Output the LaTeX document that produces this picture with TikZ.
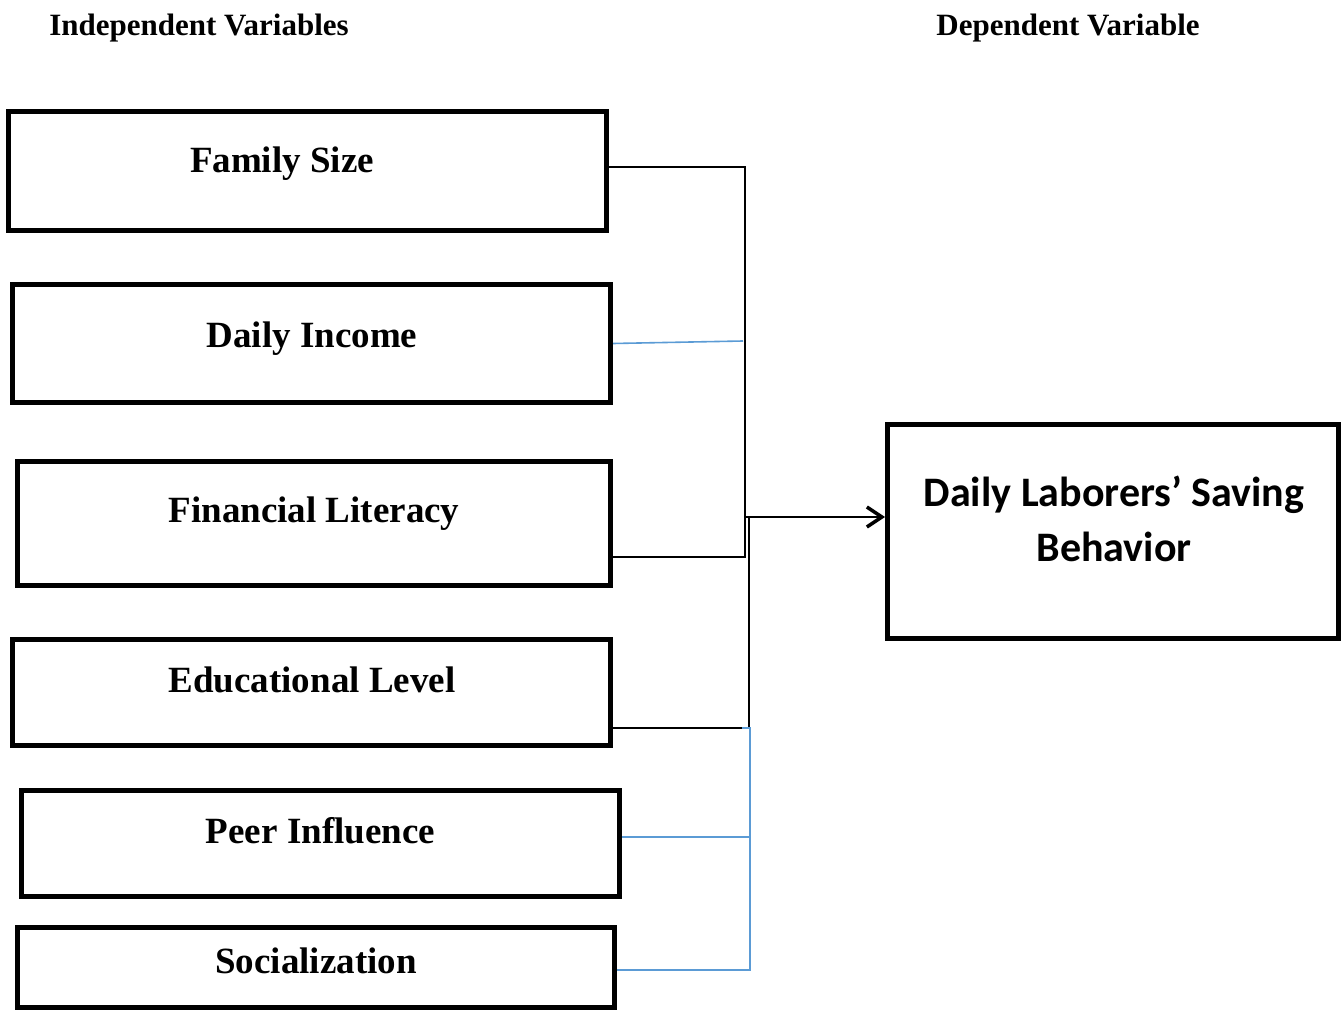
\documentclass[tikz,border=0pt]{standalone}
\usepackage{fontspec}
\setmainfont{Liberation Serif}
\newfontfamily\calibri{Carlito}
\usepackage{tikz}
\usetikzlibrary{arrows.meta, positioning, calc}
\definecolor{linkblue}{RGB}{91,155,213}

\begin{document}
\begin{tikzpicture}[
  x=1pt, y=-1pt,
  varbox/.style={rectangle, draw, line width=5pt, inner sep=0pt},
  lbl/.style={anchor=base, font=\fontsize{37}{44}\selectfont\bfseries},
  head/.style={anchor=base, font=\fontsize{31}{37}\selectfont\bfseries},
  link/.style={line width=2pt},
  bluelink/.style={line width=1.6pt, linkblue},
  arr/.style={line width=2pt, -{Straight Barb[length=15pt,width=20pt,line width=3.5pt]}},
]
  \useasboundingbox (0,0) rectangle (1341,1011);

  \node[head] (IVhead) at (199,36) {Independent Variables};
  \node[head] (DVhead) at (1068,36) {Dependent Variable};

  \node[varbox,minimum width=598,minimum height=119] (FS) at (307.5,171) {};
  \node[varbox,minimum width=598,minimum height=118] (DI) at (311.5,343.5) {};
  \node[varbox,minimum width=593,minimum height=124] (FL) at (314,523.5) {};
  \node[varbox,minimum width=598,minimum height=106] (EL) at (311.5,692.5) {};
  \node[varbox,minimum width=598,minimum height=106] (PI) at (320.5,843.5) {};
  \node[varbox,minimum width=597,minimum height=80] (SO) at (316,967.5) {};
  \node[varbox,minimum width=451,minimum height=214] (DV) at (1113,531.5) {};

  \node[lbl] (FStext) at (282,173) {Family Size};
  \node[lbl] (DItext) at (312,347) {Daily Income};
  \node[lbl] (FLtext) at (314,522) {Financial Literacy};
  \node[lbl] (ELtext) at (312,692) {Educational Level};
  \node[lbl] (PItext) at (320.5,843) {Peer Influence};
  \node[lbl] (SOtext) at (316,973) {Socialization};
  \node[anchor=base, align=center, font=\calibri\fontsize{42}{55}\selectfont\bfseries]
    (DVtext) at (1114,561) {Daily Laborers’ Saving\\Behavior};

  \coordinate (top) at (745,167);
  \coordinate (mid) at (745,557);
  \coordinate (out) at (745,517);
  \coordinate (split) at (749,517);
  \coordinate (low) at (749,728);
  \coordinate (inc) at (743,341);
  \coordinate (blueend) at (750,728);
  \coordinate (peer) at (750,837);
  \coordinate (soc) at (750,970);

  \draw[link] (FS.east |- top) -- (top) -- (mid) -- (FL.east |- mid);
  \draw[bluelink] (DI.east) -- (inc);
  \draw[arr] (out) -- (DV.west |- out);
  \draw[link] (split) -- (low) -- (EL.east |- low);
  \draw[bluelink] (SO.east |- soc) -- (soc) -- (blueend) -- ++(-8,0);
  \draw[bluelink] (PI.east |- peer) -- (peer);
\end{tikzpicture}
\end{document}
